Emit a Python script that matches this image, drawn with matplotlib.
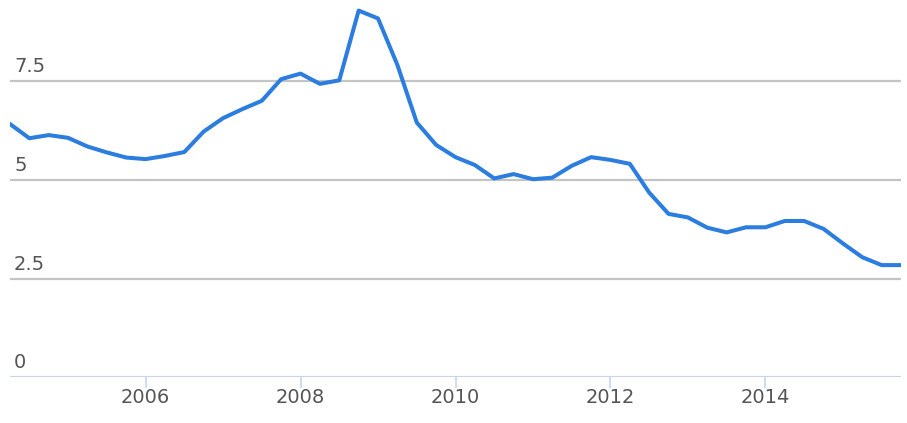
import numpy as np
import matplotlib
matplotlib.use("Agg")
import matplotlib.pyplot as plt

# quarterly values, 2004 Q2 .. 2015 Q4
start_year = 2004.25
values = [6.42, 6.06, 6.14, 6.07, 5.85, 5.70, 5.57, 5.53, 5.61, 5.71,
          6.23, 6.57, 6.80, 7.01, 7.56, 7.70, 7.44, 7.53, 9.30, 9.10,
          7.92, 6.46, 5.89, 5.58, 5.38, 5.04, 5.15, 5.02, 5.06, 5.36,
          5.58, 5.51, 5.41, 4.68, 4.14, 4.05, 3.79, 3.67, 3.80, 3.80,
          3.96, 3.96, 3.76, 3.39, 3.04, 2.84, 2.84]
x_ticks = [2006, 2008, 2010, 2012, 2014]
y_ticks = [0, 2.5, 5, 7.5]
y_labels = ["0", "2.5", "5", "7.5"]

years = start_year + 0.25 * np.arange(len(values))

fig = plt.figure(figsize=(9.07, 4.23), dpi=100)
ax = fig.add_axes([10 / 907, 46 / 423, 891 / 907, 377 / 423])

# gridlines
for yv in y_ticks[1:]:
    ax.axhline(yv, color="#c4c4c4", lw=1.6, zorder=1)
ax.axhline(0, color="#c5d5ea", lw=1.6, zorder=1)

ax.plot(years, values, color="#2b7ddf", lw=2.9, solid_joinstyle="round", zorder=3)

ax.set_xlim(years[0], years[-1])
ax.set_ylim(0, 377 / 39.4)

for s in ax.spines.values():
    s.set_visible(False)

ax.set_yticks([])
ax.set_xticks(x_ticks)
ax.set_xticklabels([str(t) for t in x_ticks])
ax.tick_params(axis="x", length=8, width=1.2, color="#c5d5ea",
               labelsize=14, labelcolor="#555555", pad=0)

for yv, lab in zip(y_ticks, y_labels):
    ax.annotate(lab, xy=(0, yv), xycoords=("axes fraction", "data"),
                xytext=(4, 5), textcoords="offset pixels",
                ha="left", va="bottom", fontsize=14, color="#555555")

fig.savefig("out.png", dpi=100)
